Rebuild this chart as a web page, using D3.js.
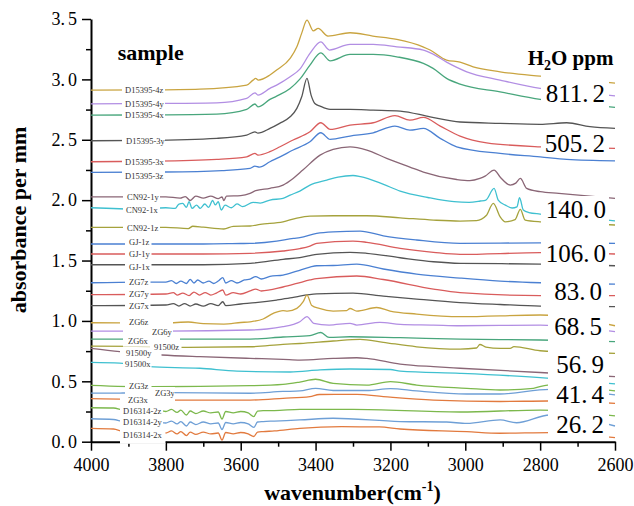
<!DOCTYPE html>
<html><head><meta charset="utf-8">
<script src="https://cdn.jsdelivr.net/npm/d3@7"></script>
<style>body{margin:0;background:#fff}svg{display:block}</style>
</head><body><svg id="c" width="634" height="506"></svg>
<script>
// ---------------- data ----------------
const xTicks = [4000,3800,3600,3400,3200,3000,2800,2600];
const xMinor = [3900,3700,3500,3300,3100,2900,2700];
const yTicks = [0,0.5,1,1.5,2,2.5,3,3.5];
const yMinor = [0.25,0.75,1.25,1.75,2.25,2.75,3.25];
const ppmValues = ["811.2","505.2","140.0","106.0","83.0","68.5","56.9","41.4","26.2"];
const sampleNames = ["D15395-4z","D15395-4y","D15395-4x","D15395-3y","D15395-3x","D15395-3z",
  "CN92-1y","CN92-1x","CN92-1z","GJ-1z","GJ-1y","GJ-1x","ZG7z","ZG7y","ZG7x",
  "ZG6z","ZG6y","ZG6x","91500z","91500y","91500x","ZG3z","ZG3y","ZG3x",
  "D16314-2z","D16314-2y","D16314-2x"];

const D15395_4z = [[4000,2.911],[3850,2.913],[3709,2.920],[3584,2.953],[3567,2.994],[3560,3.008],[3553,2.994],[3522,3.036],[3504,3.077],[3468,3.174],[3450,3.270],[3437,3.383],[3423,3.491],[3406,3.402],[3393,3.422],[3367,3.359],[3308,3.386],[3247,3.359],[3183,3.331],[3113,3.270],[3094,3.243],[3050,3.160],[3014,3.143],[2979,3.104],[2907,3.063],[2800,3.027],[2700,3.000],[2600,2.969]];
const D15395_4y = [[4000,2.798],[3850,2.800],[3664,2.806],[3584,2.843],[3562,2.889],[3554,2.870],[3522,2.925],[3504,2.953],[3468,3.022],[3442,3.085],[3415,3.215],[3386,3.311],[3363,3.243],[3308,3.290],[3246,3.290],[3183,3.270],[3112,3.243],[3086,3.209],[3050,3.143],[2996,3.063],[2907,2.994],[2800,2.925],[2700,2.895],[2600,2.864]];
const D15395_4x = [[4000,2.704],[3850,2.706],[3664,2.713],[3584,2.752],[3562,2.796],[3554,2.773],[3522,2.834],[3504,2.862],[3468,2.925],[3442,3.002],[3415,3.118],[3386,3.220],[3361,3.154],[3308,3.207],[3246,3.207],[3183,3.187],[3112,3.132],[3086,3.091],[3050,3.008],[3014,2.961],[2907,2.897],[2800,2.834],[2700,2.800],[2600,2.768]];
const D15395_3y = [[4000,2.492],[3850,2.495],[3664,2.512],[3584,2.539],[3562,2.566],[3554,2.555],[3522,2.594],[3496,2.636],[3468,2.690],[3450,2.760],[3437,2.856],[3423,3.008],[3412,2.870],[3402,2.801],[3388,2.779],[3361,2.752],[3308,2.752],[3246,2.746],[3174,2.738],[3094,2.690],[3014,2.647],[2907,2.636],[2800,2.628],[2729,2.641],[2667,2.608],[2600,2.594]];
const D15395_3x = [[4000,2.318],[3850,2.322],[3664,2.338],[3584,2.359],[3562,2.387],[3554,2.373],[3522,2.401],[3495,2.442],[3460,2.498],[3415,2.566],[3386,2.641],[3361,2.586],[3308,2.622],[3246,2.641],[3188,2.700],[3148,2.663],[3112,2.685],[3067,2.613],[3014,2.531],[2943,2.475],[2800,2.442],[2700,2.435],[2600,2.429]];
const D15395_3z = [[4000,2.230],[3800,2.233],[3650,2.245],[3575,2.263],[3562,2.282],[3550,2.274],[3522,2.318],[3495,2.359],[3460,2.415],[3415,2.483],[3386,2.558],[3361,2.503],[3308,2.531],[3246,2.558],[3188,2.613],[3148,2.580],[3112,2.594],[3067,2.512],[3023,2.442],[2907,2.387],[2800,2.359],[2729,2.338],[2600,2.326]];
const CN92_1y = [[4000,2.028],[3800,2.028],[3762,2.017],[3748,2.030],[3735,1.997],[3720,2.034],[3700,2.017],[3680,2.034],[3660,2.013],[3650,2.026],[3645,1.997],[3638,2.034],[3600,2.038],[3575,2.056],[3560,2.078],[3522,2.098],[3487,2.125],[3460,2.180],[3434,2.249],[3388,2.373],[3353,2.421],[3308,2.442],[3263,2.415],[3210,2.346],[3148,2.274],[3112,2.233],[3023,2.171],[2988,2.162],[2961,2.180],[2947,2.199],[2923,2.249],[2907,2.192],[2880,2.125],[2865,2.141],[2853,2.180],[2836,2.098],[2800,2.070],[2750,2.056],[2600,2.015]];
const CN92_1x = [[4000,1.937],[3870,1.926],[3800,1.937],[3775,1.932],[3765,1.968],[3755,1.973],[3745,1.941],[3738,1.987],[3730,1.932],[3718,1.959],[3708,1.932],[3696,1.968],[3686,1.941],[3675,1.997],[3668,1.961],[3660,1.987],[3652,1.918],[3642,1.959],[3625,1.937],[3610,1.969],[3595,1.947],[3567,1.982],[3548,1.976],[3522,2.001],[3487,2.015],[3468,2.042],[3442,2.075],[3415,2.125],[3370,2.166],[3340,2.191],[3300,2.204],[3280,2.195],[3220,2.133],[3174,2.075],[3100,2.022],[3030,1.987],[2990,1.982],[2960,1.993],[2945,2.001],[2923,2.098],[2912,2.001],[2893,1.959],[2875,1.935],[2862,1.945],[2855,2.020],[2845,1.918],[2830,1.897],[2800,1.885],[2700,1.860],[2600,1.829]];
const CN92_1z = [[4000,1.775],[3800,1.775],[3740,1.765],[3728,1.784],[3700,1.776],[3645,1.761],[3620,1.783],[3575,1.786],[3548,1.800],[3487,1.821],[3450,1.852],[3415,1.868],[3353,1.871],[3263,1.871],[3174,1.854],[3085,1.835],[3014,1.827],[2970,1.831],[2944,1.873],[2925,1.974],[2907,1.863],[2893,1.821],[2867,1.839],[2853,1.924],[2840,1.835],[2800,1.821],[2700,1.810],[2600,1.794]];
const GJ_1z = [[4000,1.637],[3700,1.637],[3600,1.641],[3575,1.642],[3504,1.661],[3459,1.684],[3442,1.689],[3397,1.725],[3353,1.738],[3281,1.744],[3219,1.705],[3130,1.670],[3014,1.642],[2800,1.647],[2600,1.642]];
const GJ_1y = [[4000,1.554],[3700,1.554],[3575,1.560],[3487,1.579],[3442,1.599],[3415,1.620],[3397,1.642],[3300,1.661],[3263,1.651],[3174,1.601],[3085,1.568],[3014,1.551],[2800,1.565],[2600,1.554]];
const GJ_1x = [[4000,1.465],[3700,1.465],[3575,1.477],[3487,1.510],[3442,1.525],[3415,1.541],[3397,1.551],[3308,1.568],[3263,1.560],[3174,1.523],[3085,1.490],[3014,1.477],[2800,1.471],[2600,1.457]];
const ZG7z = [[4000,1.316],[3870,1.322],[3800,1.322],[3785,1.334],[3772,1.310],[3760,1.330],[3745,1.310],[3735,1.344],[3725,1.314],[3715,1.339],[3700,1.314],[3685,1.330],[3672,1.310],[3660,1.330],[3648,1.359],[3640,1.314],[3625,1.334],[3610,1.314],[3590,1.339],[3575,1.347],[3560,1.367],[3545,1.347],[3522,1.368],[3487,1.380],[3450,1.413],[3415,1.446],[3397,1.457],[3353,1.459],[3290,1.471],[3219,1.430],[3130,1.388],[3014,1.355],[2907,1.330],[2800,1.316],[2600,1.305]];
const ZG7y = [[4000,1.217],[3800,1.223],[3780,1.235],[3770,1.214],[3755,1.231],[3738,1.210],[3725,1.239],[3710,1.214],[3695,1.235],[3680,1.214],[3665,1.231],[3648,1.256],[3640,1.214],[3620,1.235],[3600,1.223],[3575,1.248],[3560,1.264],[3545,1.248],[3487,1.281],[3450,1.310],[3415,1.339],[3397,1.351],[3290,1.372],[3219,1.343],[3085,1.264],[3014,1.235],[2800,1.210],[2600,1.209]];
const ZG7x = [[4000,1.126],[3800,1.132],[3780,1.144],[3765,1.123],[3750,1.144],[3735,1.123],[3720,1.140],[3700,1.123],[3680,1.144],[3660,1.127],[3648,1.159],[3640,1.127],[3600,1.140],[3560,1.152],[3504,1.173],[3468,1.190],[3442,1.206],[3397,1.224],[3300,1.231],[3219,1.206],[3130,1.181],[3014,1.152],[2907,1.136],[2800,1.123],[2600,1.118]];
const ZG6z = [[4000,0.985],[3800,0.983],[3740,0.991],[3700,0.978],[3645,0.974],[3600,0.987],[3575,0.993],[3540,1.016],[3513,1.063],[3487,1.086],[3475,1.082],[3450,1.104],[3433,1.159],[3423,1.214],[3410,1.127],[3390,1.103],[3353,1.082],[3317,1.086],[3308,1.103],[3290,1.082],[3237,1.111],[3201,1.082],[3130,1.057],[3014,1.035],[2800,1.049],[2600,0.960]];
const ZG6y = [[4000,0.916],[3800,0.916],[3575,0.925],[3530,0.933],[3487,0.952],[3459,0.972],[3442,0.993],[3423,1.036],[3405,0.980],[3364,0.966],[3308,0.980],[3290,0.966],[3228,0.988],[3174,0.972],[3085,0.966],[3014,0.960],[2800,0.966],[2600,0.911]];
const ZG6x = [[4000,0.850],[3800,0.850],[3575,0.850],[3487,0.867],[3415,0.879],[3386,0.904],[3364,0.864],[3308,0.869],[3174,0.861],[3014,0.850],[2800,0.842],[2600,0.828]];
const S91500z = [[4000,0.792],[3880,0.790],[3800,0.781],[3575,0.786],[3487,0.806],[3442,0.813],[3353,0.834],[3281,0.848],[3219,0.823],[3130,0.786],[3014,0.767],[2970,0.776],[2961,0.805],[2945,0.784],[2907,0.773],[2880,0.773],[2870,0.788],[2800,0.753],[2600,0.732]];
const S91500y = [[4000,0.773],[3923,0.745],[3811,0.718],[3709,0.704],[3575,0.690],[3487,0.682],[3442,0.676],[3353,0.690],[3290,0.695],[3263,0.690],[3174,0.643],[3085,0.621],[3014,0.608],[2800,0.573],[2600,0.538]];
const S91500x = [[4000,0.657],[3923,0.651],[3845,0.621],[3709,0.608],[3610,0.585],[3468,0.577],[3388,0.594],[3308,0.602],[3200,0.598],[3174,0.585],[3014,0.566],[2800,0.531],[2600,0.478]];
const ZG3z = [[4000,0.467],[3842,0.455],[3575,0.464],[3487,0.475],[3442,0.494],[3400,0.517],[3353,0.483],[3263,0.469],[3200,0.498],[3130,0.469],[2996,0.442],[2907,0.428],[2818,0.442],[2780,0.469],[2600,0.420]];
const ZG3y = [[4000,0.403],[3923,0.403],[3800,0.406],[3575,0.401],[3487,0.416],[3442,0.420],[3400,0.442],[3353,0.424],[3263,0.424],[3200,0.440],[3130,0.420],[2996,0.395],[2907,0.395],[2774,0.434],[2600,0.387]];
const ZG3x = [[4000,0.356],[3923,0.353],[3800,0.345],[3575,0.345],[3487,0.359],[3415,0.374],[3390,0.391],[3290,0.392],[3219,0.374],[3085,0.345],[2907,0.333],[2780,0.337],[2600,0.318]];
const D16314_2z = [[4000,0.281],[3940,0.279],[3910,0.262],[3830,0.267],[3800,0.250],[3785,0.267],[3770,0.242],[3760,0.262],[3745,0.221],[3735,0.254],[3720,0.233],[3700,0.254],[3680,0.238],[3660,0.246],[3650,0.188],[3640,0.250],[3620,0.238],[3600,0.250],[3580,0.238],[3565,0.207],[3555,0.254],[3540,0.258],[3510,0.258],[3442,0.268],[3300,0.267],[3014,0.246],[2800,0.262],[2600,0.213]];
const D16314_2y = [[4000,0.190],[3940,0.184],[3910,0.166],[3830,0.171],[3800,0.155],[3785,0.171],[3770,0.147],[3760,0.167],[3745,0.130],[3735,0.163],[3720,0.142],[3700,0.163],[3680,0.147],[3660,0.155],[3650,0.101],[3640,0.159],[3620,0.147],[3600,0.159],[3580,0.147],[3565,0.118],[3555,0.163],[3540,0.167],[3510,0.171],[3442,0.180],[3353,0.194],[3174,0.167],[3050,0.163],[2996,0.151],[2907,0.180],[2863,0.157],[2774,0.221],[2600,0.130]];
const D16314_2x = [[4000,0.111],[3940,0.105],[3910,0.084],[3830,0.089],[3800,0.072],[3785,0.089],[3770,0.064],[3760,0.084],[3745,0.051],[3735,0.080],[3720,0.060],[3700,0.080],[3680,0.064],[3660,0.072],[3650,0.014],[3640,0.076],[3620,0.064],[3600,0.076],[3580,0.064],[3565,0.043],[3555,0.080],[3540,0.084],[3510,0.089],[3442,0.111],[3330,0.124],[3230,0.122],[3174,0.105],[2996,0.083],[2907,0.070],[2774,0.075],[2600,0.033]];

const seriesData = [D15395_4z,D15395_4y,D15395_4x,D15395_3y,D15395_3x,D15395_3z,
  CN92_1y,CN92_1x,CN92_1z,GJ_1z,GJ_1y,GJ_1x,ZG7z,ZG7y,ZG7x,
  ZG6z,ZG6y,ZG6x,S91500z,S91500y,S91500x,ZG3z,ZG3y,ZG3x,
  D16314_2z,D16314_2y,D16314_2x];

// ---------------- styles / layout ----------------
const C = {gold:"#c9a440",purple:"#b28ee3",green:"#48a67c",gray:"#555555",red:"#d95c5c",blue:"#4b80d2",
  mauve:"#8a6676",cyan:"#3fc0d0",olive:"#a5a23c",lgreen:"#7cb84c",lblue:"#6e9fd6",orange:"#e27a3e"};
const seriesColors = [C.gold,C.purple,C.green,C.gray,C.red,C.blue,
  C.mauve,C.cyan,C.olive,C.blue,C.red,C.gray,C.blue,C.red,C.gray,
  C.gold,C.purple,C.green,C.olive,C.mauve,C.cyan,C.lgreen,C.lblue,C.orange,
  C.lgreen,C.lblue,C.orange];
// left label placement: [x, y centre, box x0, box x1]
const leftPos = [[125,90,122,165],[125,103.7,122,165],[125,115,122,165],[126,141,122,165],[125,161.7,122,165],[125,175.7,122,165],
  [127,197.3,123,160],[126,210,123,160],[127,228,123,160],[129,242.3,125,151.5],[129,254.3,125,151.5],[129,266.7,125,151.5],
  [129,281.7,125,150.5],[129,294,125,150.5],[129,305.7,125,150.5],
  [129,322.3,120,173],[152,332,123,173],[128,340.7,123,180],[154,346.7,150,181.5],[126,353.3,120,161.5],[125,364.3,123,151.5],
  [129,386,125,151.5],[155,393,125,175],[128,400,120,175],
  [123,410.7,120,163],[123,421.7,120,163],[123,435,120,165.5]];
// right labels: [right x, baseline, box x0, box y0, box y1]
const ppmPos = [[605,101.7,541,72,111],[605,151.7,541,131,155.5],[606,218.3,541,196,226.5],[606,261.7,541,240,268],
  [602,300,541,280,309],[602,335,548,312,344.5],[604,373.3,548,346,386.5],[604,403.3,548,383,407],[604,433.3,548,408,440]];

const serif = "'Liberation Serif','Times New Roman',serif";
const svg = d3.select("#c");
const x = d3.scaleLinear().domain([4000,2600]).range([91,615]);
const y = d3.scaleLinear().domain([0,3.5]).range([441.7,19]);

// axes
function styleAxis(g){
  g.select(".domain").attr("stroke","#000").attr("stroke-width",2);
  g.selectAll(".tick line").attr("stroke","#000").attr("stroke-width",1.5);
  g.selectAll("text").attr("font-family",serif).attr("font-size",18).attr("fill","#000");
}
const yAx = svg.append("g").attr("transform","translate(91,0)")
  .call(d3.axisLeft(y).tickValues(yTicks).tickSize(9).tickSizeOuter(0).tickPadding(5).tickFormat(d3.format(".1f")));
styleAxis(yAx);
yAx.selectAll(".tick text").each(function(d){
  const s = d3.format(".1f")(d).split(".");
  const t = d3.select(this).text("");
  t.append("tspan").text(s[0]+".");
  t.append("tspan").attr("dx",3).text(s[1]);
});
const yMin = svg.append("g").attr("transform","translate(91,0)")
  .call(d3.axisLeft(y).tickValues(yMinor).tickSize(5).tickFormat(""));
yMin.select(".domain").remove();
yMin.selectAll(".tick line").attr("stroke","#000").attr("stroke-width",1.5);

const xAx = svg.append("g").attr("transform","translate(0,441.7)")
  .call(d3.axisBottom(x).tickValues(xTicks).tickSize(9).tickSizeOuter(0).tickPadding(8).tickFormat(d3.format("d")));
styleAxis(xAx);
const xMin = svg.append("g").attr("transform","translate(0,441.7)")
  .call(d3.axisBottom(x).tickValues(xMinor).tickSize(5).tickFormat(""));
xMin.select(".domain").remove();
xMin.selectAll(".tick line").attr("stroke","#000").attr("stroke-width",1.5);

// spectra
const line = d3.line().x(d=>x(d[0])).y(d=>y(d[1])).curve(d3.curveMonotoneX);
svg.append("g").selectAll("path").data(seriesData).join("path")
  .attr("d",line).attr("fill","none").attr("stroke",(d,i)=>seriesColors[i]).attr("stroke-width",1.3);

// white label boxes
const boxes = svg.append("g");
leftPos.forEach((p,i)=>{
  const y1 = i===leftPos.length-1 ? 443.8 : p[1]+6;
  boxes.append("rect").attr("x",p[2]).attr("y",p[1]-6).attr("width",p[3]-p[2]).attr("height",y1-(p[1]-6)).attr("fill","#fff");
});
ppmPos.forEach(p=>{
  boxes.append("rect").attr("x",p[2]).attr("y",p[3]).attr("width",609-p[2]).attr("height",p[4]-p[3]).attr("fill","#fff");
});

// left sample labels
svg.append("g").selectAll("text").data(sampleNames).join("text")
  .attr("x",(d,i)=>leftPos[i][0]).attr("y",(d,i)=>leftPos[i][1]).attr("dy","0.35em")
  .attr("font-family",serif).attr("font-size",8.5).attr("fill","#333").text(d=>d);

// ppm labels
const ppmG = svg.append("g");
ppmValues.forEach((v,i)=>{
  const s = v.split(".");
  const t = ppmG.append("text").attr("x",ppmPos[i][0]).attr("y",ppmPos[i][1]).attr("text-anchor","end")
    .attr("font-family",serif).attr("font-size",25).attr("fill","#000");
  t.append("tspan").text(s[0]+".");
  t.append("tspan").attr("dx",4).text(s[1]);
});

// titles
svg.append("text").attr("x",117.7).attr("y",60).attr("font-family",serif).attr("font-weight","bold")
  .attr("font-size",22).text("sample");
const h = svg.append("text").attr("x",527.7).attr("y",65).attr("font-family",serif).attr("font-weight","bold").attr("font-size",21);
h.append("tspan").text("H");
h.append("tspan").attr("font-size",14).attr("dy",5).text("2");
h.append("tspan").attr("dy",-5).text("O ppm");

const xt = svg.append("text").attr("x",352.5).attr("y",500).attr("text-anchor","middle")
  .attr("font-family",serif).attr("font-weight","bold").attr("font-size",22);
xt.append("tspan").text("wavenumber(cm");
xt.append("tspan").attr("font-size",14).attr("dy",-9).text("-1");
xt.append("tspan").attr("dy",9).text(")");

svg.append("text").attr("transform","translate(25.5,220) rotate(-90)").attr("text-anchor","middle")
  .attr("font-family",serif).attr("font-weight","bold").attr("font-size",22).text("absorbance per mm");
</script>
</body></html>
